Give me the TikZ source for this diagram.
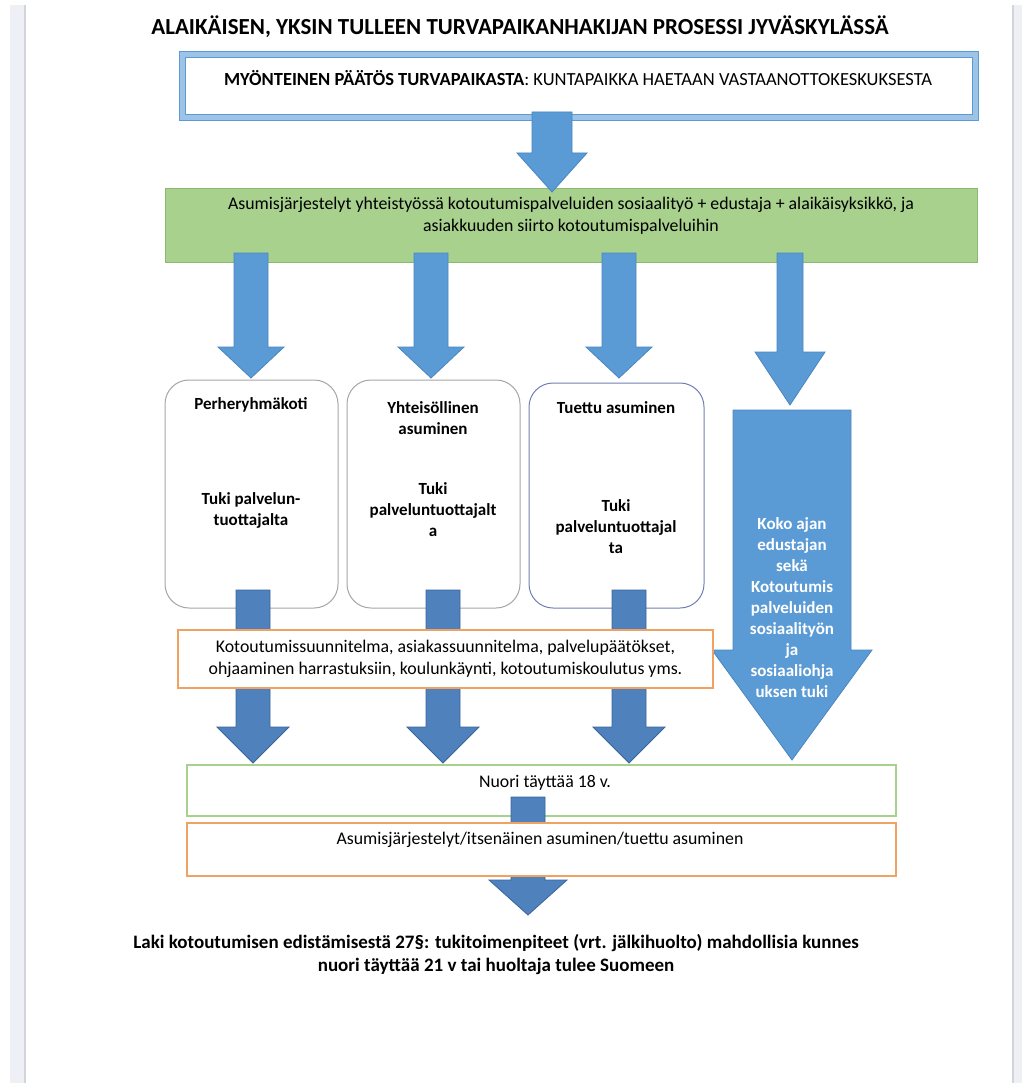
\documentclass[tikz,border=0pt]{standalone}
\usepackage{fontspec}
\setmainfont{Carlito}
\definecolor{arrowlight}{HTML}{5B9BD5}
\definecolor{arrowlightedge}{HTML}{4A86BE}
\definecolor{arrowdark}{HTML}{4F81BD}
\definecolor{arrowdarkedge}{HTML}{3A659A}
\definecolor{boxgrey}{HTML}{A6A6A6}
\definecolor{boxslate}{HTML}{6F80B4}
\definecolor{greenfill}{HTML}{A9D18E}
\definecolor{greenedge}{HTML}{8DB870}
\definecolor{orangeedge}{HTML}{F0A262}
\definecolor{topouter}{HTML}{9DC3E6}
\definecolor{topline}{HTML}{5B9BD5}
\definecolor{pagestrip}{HTML}{EFEFF6}
\definecolor{pageline}{HTML}{D4D4DC}
\newcommand\blockarrow[7]{% style, cx, ytop, yhead, ytip, half shaft, half head
  \draw[#1] (#2-#6,#3) -- (#2+#6,#3) -- (#2+#6,#4) -- (#2+#7,#4) -- (#2,#5) -- (#2-#7,#4) -- (#2-#6,#4) -- cycle;}
\begin{document}
\begin{tikzpicture}[x=1pt,y=-1pt,
  lightarrow/.style={fill=arrowlight, draw=arrowlightedge, line width=0.8pt},
  darkarrow/.style={fill=arrowdark, draw=arrowdarkedge, line width=0.8pt},
  roundbox/.style={draw=boxgrey, line width=1pt, rounded corners=24pt, fill=white, minimum width=173pt, minimum height=228pt, inner sep=0pt},
  txt/.style={font=\fontsize{17.8}{22}\selectfont, align=center, inner sep=0pt},
  btxt/.style={font=\bfseries\fontsize{17}{21}\selectfont, align=center, inner sep=0pt},
  plainbox/.style={fill=white, inner sep=0pt},
]
\useasboundingbox (0,0) rectangle (1022,1083);
\fill[white] (0,0) rectangle (1022,1083);
% page edges
\fill[pagestrip] (10,5) rectangle (25,1083);
\draw[pageline, line width=1.5pt] (25,5) -- (25,1083);
\fill[pagestrip] (1013,5) rectangle (1022,1083);
\draw[pageline, line width=1.5pt] (1013,5) -- (1013,1083);

% title
\node[font=\bfseries\fontsize{23}{26}\selectfont, inner sep=0pt] (title) at (520,27) {ALAIKÄISEN, YKSIN TULLEEN TURVAPAIKANHAKIJAN PROSESSI JYVÄSKYLÄSSÄ};

% top box
\node[plainbox, minimum width=792pt, minimum height=62pt] (top) at (579,86) {};
\draw[topouter, line width=6pt] (top.north west) rectangle (top.south east);
\draw[topline, line width=1.2pt] ([shift={(-3,-3)}]top.north west) rectangle ([shift={(3,3)}]top.south east);
\draw[topline, line width=1.2pt] ([shift={(3,3)}]top.north west) rectangle ([shift={(-3,-3)}]top.south east);
\node[font=\fontsize{18.5}{22}\selectfont, inner sep=0pt] (toptext) at (578,78) {\textbf{MYÖNTEINEN PÄÄTÖS TURVAPAIKASTA}: KUNTAPAIKKA HAETAAN VASTAANOTTOKESKUKSESTA};

% green box
\node[fill=greenfill, draw=greenedge, line width=0.8pt, minimum width=812pt, minimum height=74pt, inner sep=0pt] (green) at (571,225) {};
\node[txt] (greentext) at (571,216) {Asumisjärjestelyt yhteistyössä kotoutumispalveluiden sosiaalityö + edustaja + alaikäisyksikkö, ja\\asiakkuuden siirto kotoutumispalveluihin};

% top arrow
\blockarrow{lightarrow}{552}{112}{153}{192}{20}{35}

% arrows from green box
\blockarrow{lightarrow}{251}{253}{347}{378}{17}{33}
\blockarrow{lightarrow}{431}{253}{347}{378}{17}{33}
\blockarrow{lightarrow}{619}{253}{347}{378}{17}{33}
\blockarrow{lightarrow}{790}{253}{352}{405}{13}{35}

% big right arrow
\blockarrow{lightarrow}{792}{410}{650}{760}{59}{80}
\node[btxt, text=white] (bigtext) at (792,608) {Koko ajan\\edustajan\\sekä\\Kotoutumis\\palveluiden\\sosiaalityön\\ja\\sosiaaliohja\\uksen tuki};

% rounded boxes
\node[roundbox] (b1) at (251.5,494) {};
\node[roundbox] (b2) at (433.5,494) {};
\node[roundbox, draw=boxslate, minimum width=175pt, minimum height=225pt] (b3) at (616.5,495.5) {};
\node[btxt] (b1t) at (251,405) {Perheryhmäkoti};
\node[btxt] (b1s) at (251,510) {Tuki palvelun-\\tuottajalta};
\node[btxt] (b2t) at (433,418) {Yhteisöllinen\\asuminen};
\node[btxt] (b2s) at (433,510) {Tuki\\palveluntuottajalt\\a};
\node[btxt] (b3t) at (616,408) {Tuettu asuminen};
\node[btxt] (b3s) at (616,527) {Tuki\\palveluntuottajal\\ta};

% dark arrows
\blockarrow{darkarrow}{253}{590}{727}{763}{17}{36}
\blockarrow{darkarrow}{443}{590}{727}{763}{17}{36}
\blockarrow{darkarrow}{629}{590}{727}{763}{17}{36}

% orange box 1
\node[plainbox, draw=orangeedge, line width=2.2pt, minimum width=535pt, minimum height=58pt] (orange1) at (445.5,659) {};
\node[txt] (o1text) at (445.5,659) {Kotoutumissuunnitelma, asiakassuunnitelma, palvelupäätökset,\\ohjaaminen harrastuksiin, koulunkäynti, kotoutumiskoulutus yms.};

% Nuori box
\node[plainbox, draw=greenfill, line width=1.5pt, minimum width=709pt, minimum height=51pt] (nuori) at (541.5,790.5) {};
\node[txt] (nuoritext) at (545,783) {Nuori täyttää 18 v.};

% bottom arrow
\blockarrow{darkarrow}{528}{797}{880}{915}{17}{39}

% orange box 2
\node[plainbox, draw=orangeedge, line width=2.2pt, minimum width=709pt, minimum height=53pt] (orange2) at (541.5,849.5) {};
\node[txt] (o2text) at (540,840) {Asumisjärjestelyt/itsenäinen asuminen/tuettu asuminen};

% bottom text
\node[font=\bfseries\fontsize{19}{23}\selectfont, align=center, inner sep=0pt] (law) at (496,955) {Laki kotoutumisen edistämisestä 27§: tukitoimenpiteet (vrt. jälkihuolto) mahdollisia kunnes\\nuori täyttää 21 v tai huoltaja tulee Suomeen};
\end{tikzpicture}
\end{document}
